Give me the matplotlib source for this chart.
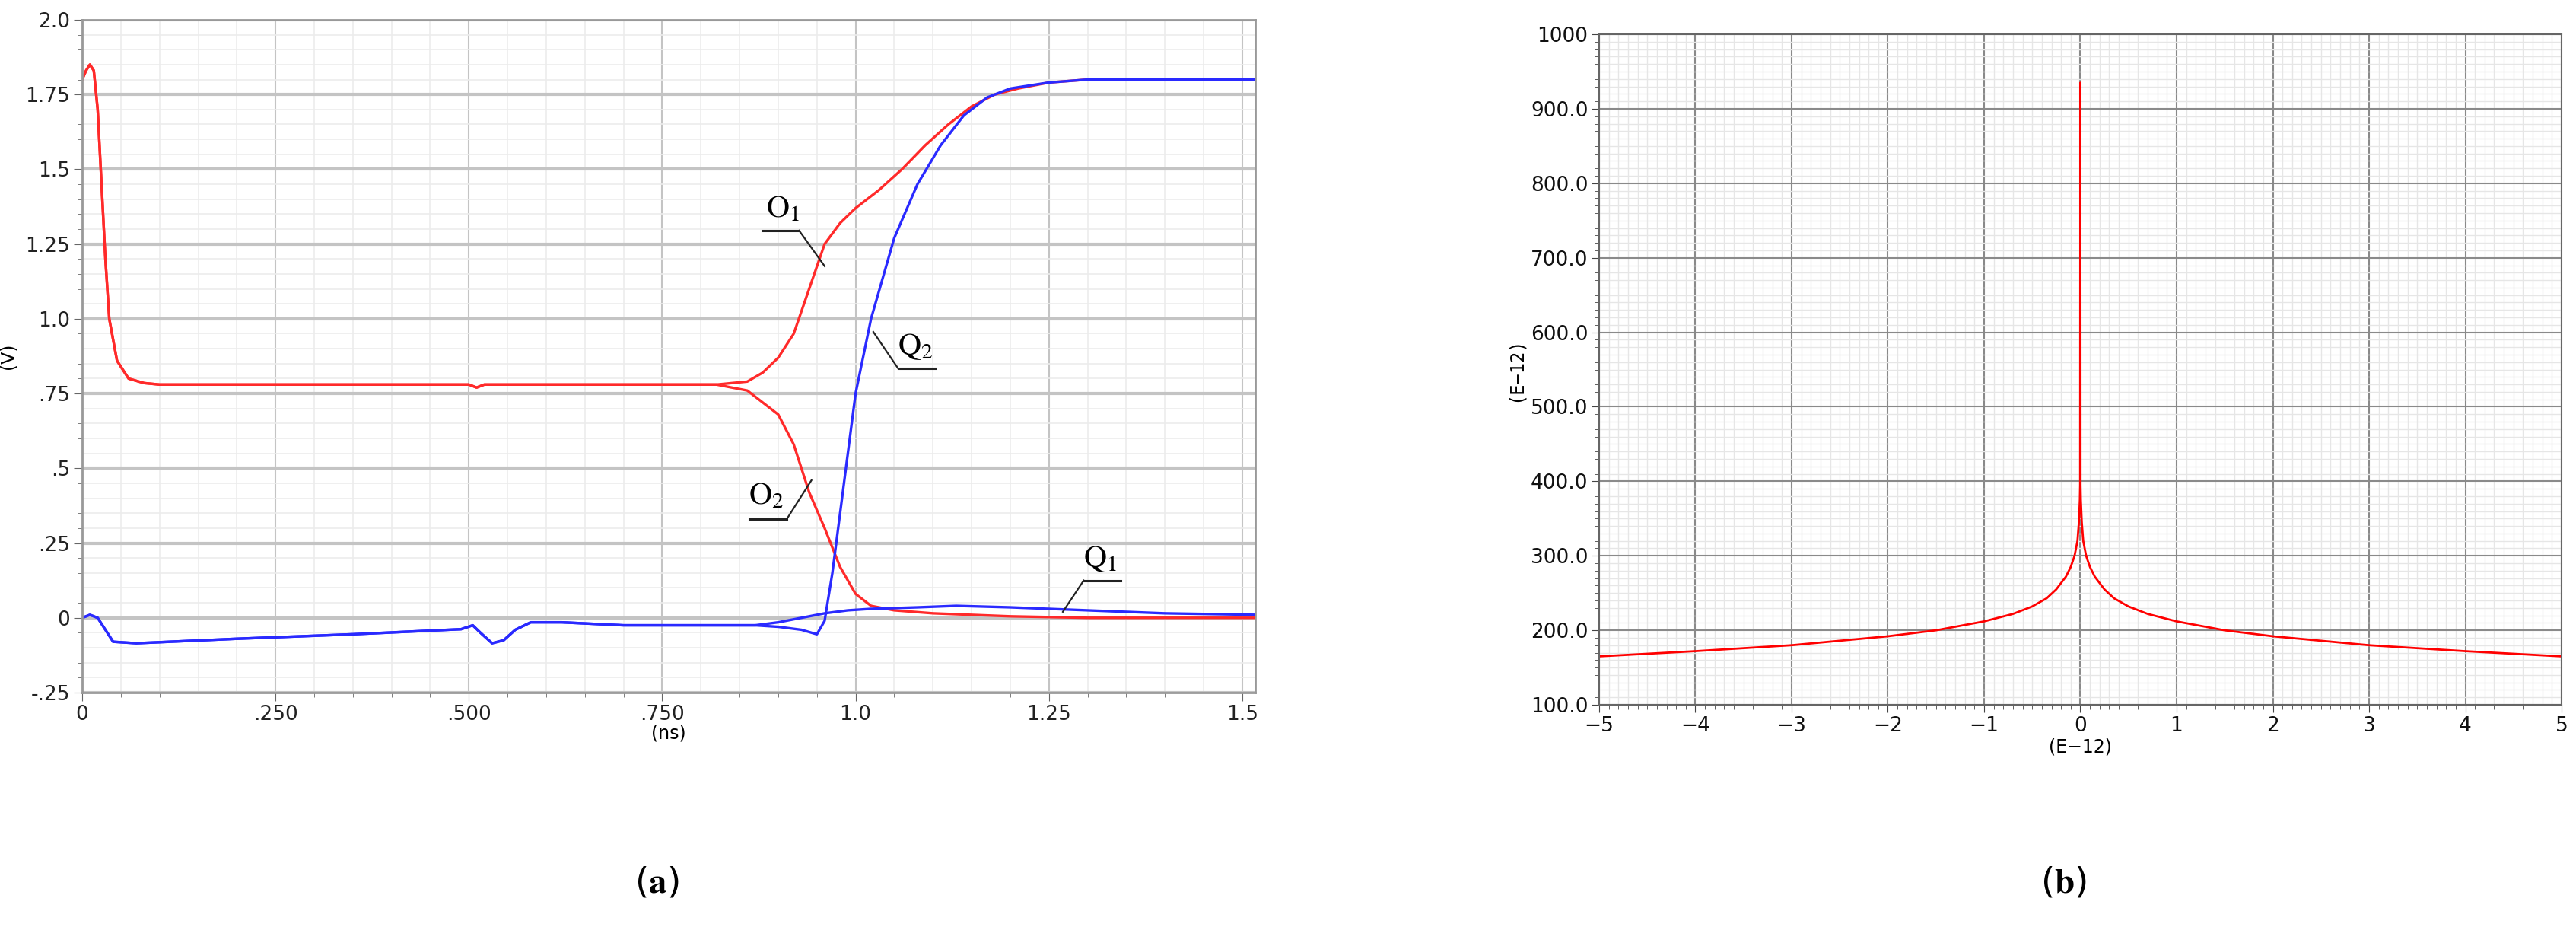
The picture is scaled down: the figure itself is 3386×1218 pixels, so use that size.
import numpy as np
import matplotlib.pyplot as plt
from matplotlib.ticker import MultipleLocator, FixedLocator

plt.rcParams['mathtext.fontset'] = 'stix'
tick_font = ['Liberation Sans Narrow', 'DejaVu Sans']

# (a) transient waveforms, time in ns, voltage in V
red_common_t = [0, 0.005, 0.01, 0.015, 0.02, 0.025, 0.03, 0.035, 0.045, 0.06, 0.08, 0.1, 0.3, 0.5, 0.51, 0.52, 0.6, 0.7, 0.8, 0.82]
red_common_v = [1.80, 1.83, 1.85, 1.83, 1.70, 1.45, 1.20, 1.00, 0.86, 0.80, 0.785, 0.78, 0.78, 0.78, 0.77, 0.78, 0.78, 0.78, 0.78, 0.78]
o1_t = [0.86, 0.88, 0.9, 0.92, 0.94, 0.96, 0.98, 1.0, 1.03, 1.06, 1.09, 1.12, 1.15, 1.18, 1.21, 1.25, 1.3, 1.4, 1.52]
o1_v = [0.79, 0.82, 0.87, 0.95, 1.1, 1.25, 1.32, 1.37, 1.43, 1.5, 1.58, 1.65, 1.71, 1.75, 1.77, 1.79, 1.80, 1.80, 1.80]
o2_t = [0.86, 0.88, 0.9, 0.92, 0.94, 0.96, 0.98, 1.0, 1.02, 1.05, 1.1, 1.2, 1.3, 1.52]
o2_v = [0.76, 0.72, 0.68, 0.58, 0.42, 0.30, 0.17, 0.08, 0.04, 0.025, 0.015, 0.005, 0.0, 0.0]
blue_common_t = [0, 0.01, 0.02, 0.03, 0.04, 0.07, 0.2, 0.35, 0.49, 0.505, 0.515, 0.53, 0.545, 0.56, 0.58, 0.62, 0.7, 0.8, 0.87]
blue_common_v = [0.0, 0.01, 0.0, -0.04, -0.08, -0.085, -0.07, -0.055, -0.038, -0.025, -0.05, -0.085, -0.075, -0.04, -0.015, -0.015, -0.025, -0.025, -0.025]
q1_t = [0.9, 0.93, 0.96, 0.99, 1.02, 1.08, 1.13, 1.2, 1.3, 1.4, 1.52]
q1_v = [-0.015, 0.0, 0.015, 0.025, 0.03, 0.035, 0.04, 0.035, 0.025, 0.015, 0.01]
q2_t = [0.9, 0.93, 0.95, 0.96, 0.97, 0.98, 0.99, 1.0, 1.02, 1.05, 1.08, 1.11, 1.14, 1.17, 1.2, 1.25, 1.3, 1.4, 1.52]
q2_v = [-0.03, -0.04, -0.055, -0.01, 0.15, 0.35, 0.55, 0.75, 1.0, 1.27, 1.45, 1.58, 1.68, 1.74, 1.77, 1.79, 1.80, 1.80, 1.80]

# label text position, underline start/end, leader end point
labels = {
    'O': ('1', 0.906, 1.37, (0.879, 0.927, 1.295), (0.96, 1.176)),
    'Q': ('2', 1.077, 0.91, (1.055, 1.103, 0.834), (1.023, 0.956)),
    'O2': ('2', 0.885, 0.41, (0.863, 0.911, 0.33), (0.943, 0.46)),
    'Q1': ('1', 1.316, 0.20, (1.295, 1.343, 0.125), (1.268, 0.02)),
}

# (b) curve, both axes in units of E-12
b_x = [-5, -4, -3, -2, -1.5, -1, -0.7, -0.5, -0.35, -0.25, -0.15, -0.1, -0.06, -0.03, -0.015, -0.005, -0.002, 0.0,
       0.002, 0.005, 0.015, 0.03, 0.06, 0.1, 0.15, 0.25, 0.35, 0.5, 0.7, 1, 1.5, 2, 3, 4, 5]
b_y = [165, 172, 180, 192, 200, 212, 222, 232, 243, 255, 272, 285, 300, 320, 345, 375, 395, 935,
       395, 375, 345, 320, 300, 285, 272, 255, 243, 232, 222, 212, 200, 192, 180, 172, 165]

fig = plt.figure(figsize=(33.87, 12.18), dpi=100)

# ---- (a)
ax = fig.add_axes([0.0319, 0.2529, 0.4553, 0.7258])
ax.set_xlim(0, 1.517)
ax.set_ylim(-0.25, 2.0)
ax.xaxis.set_major_locator(FixedLocator([0, 0.25, 0.5, 0.75, 1.0, 1.25, 1.5]))
ax.set_xticklabels(['0', '.250', '.500', '.750', '1.0', '1.25', '1.5'])
ax.set_yticks([-0.25, 0, 0.25, 0.5, 0.75, 1.0, 1.25, 1.5, 1.75, 2.0])
ax.set_yticklabels(['-.25', '0', '.25', '.5', '.75', '1.0', '1.25', '1.5', '1.75', '2.0'])
ax.xaxis.set_minor_locator(MultipleLocator(0.05))
ax.yaxis.set_minor_locator(MultipleLocator(0.05))
ax.grid(which='minor', color='#ececec', lw=1.2)
ax.grid(which='major', axis='x', color='#c4c4c4', lw=1.5)
ax.grid(which='major', axis='y', color='#c4c4c4', lw=3)
ax.set_axisbelow(True)
for s in ax.spines.values():
    s.set_color('#999999'); s.set_linewidth(2)
ax.tick_params(which='both', colors='#666666', labelcolor='#222222', labelsize=19)
ax.tick_params(which='major', length=8)
ax.tick_params(which='minor', length=4)
for lab in ax.get_xticklabels() + ax.get_yticklabels():
    lab.set_family(tick_font)
ax.set_xlabel('(ns)', fontsize=17, family=tick_font, labelpad=0)
ax.set_ylabel('(V)', fontsize=17, family=tick_font, labelpad=8)

ax.plot(red_common_t + o1_t, red_common_v + o1_v, color='#ff2a2a', lw=2.4)
ax.plot(red_common_t + o2_t, red_common_v + o2_v, color='#ff2a2a', lw=2.4)
ax.plot(blue_common_t + q1_t, blue_common_v + q1_v, color='#2a2aff', lw=2.4)
ax.plot(blue_common_t + q2_t, blue_common_v + q2_v, color='#2a2aff', lw=2.4)

for key, (sub, tx, ty, (u0, u1, uy), (px, py)) in labels.items():
    ax.text(tx, ty, r'$\mathrm{%s}_{%s}$' % (key[0], sub), fontsize=30, ha='center', va='center')
    ax.plot([u0, u1], [uy, uy], color='#222222', lw=2.2)
    lead_x = u1 if key in ('O', 'O2') else u0
    ax.plot([lead_x, px], [uy, py], color='#222222', lw=1.6)

# ---- (b)
bx = fig.add_axes([0.6206, 0.2397, 0.3735, 0.7233])
bx.set_xlim(-5, 5)
bx.set_ylim(100, 1000)
bx.xaxis.set_minor_locator(MultipleLocator(0.1))
bx.yaxis.set_minor_locator(MultipleLocator(10))
bx.set_yticks(np.arange(100, 1001, 100))
bx.set_yticklabels(['100.0', '200.0', '300.0', '400.0', '500.0', '600.0', '700.0', '800.0', '900.0', '1000'])
bx.set_xticks(np.arange(-5, 6, 1))
bx.set_xticklabels([str(v).replace('-', '\u2212') for v in range(-5, 6)])
bx.grid(which='minor', color='#e6e6e6', lw=1)
bx.grid(which='major', color='#8a8a8a', lw=1.5)
bx.set_axisbelow(True)
for s in bx.spines.values():
    s.set_color('#666666'); s.set_linewidth(1.5)
bx.tick_params(which='both', colors='#444444', labelcolor='#111111', labelsize=19)
bx.tick_params(which='major', length=7)
bx.tick_params(which='minor', length=4)
for lab in bx.get_xticklabels() + bx.get_yticklabels():
    lab.set_family(tick_font)
bx.set_xlabel('(E\u221212)', fontsize=17, family=tick_font, labelpad=2)
bx.set_ylabel('(E\u221212)', fontsize=17, family='DejaVu Sans Mono', labelpad=6)
bx.plot(b_x, b_y, color='#ff0000', lw=2)

fig.text(0.255, 0.048, r'($\mathbf{a}$)', fontsize=34, ha='center', va='center')
fig.text(0.801, 0.048, r'($\mathbf{b}$)', fontsize=34, ha='center', va='center')

fig.savefig('out.png', dpi=100)
